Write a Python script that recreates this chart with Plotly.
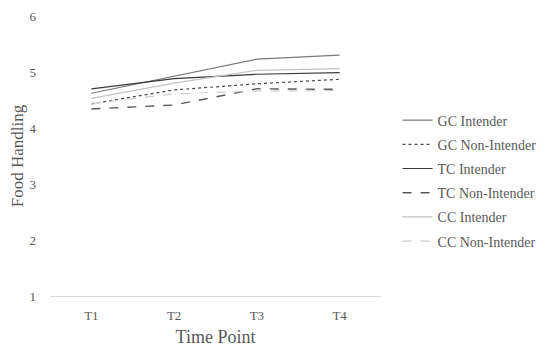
import plotly.graph_objects as go

time_points = ["T1", "T2", "T3", "T4"]
series_names = ["GC Intender", "GC Non-Intender", "TC Intender", "TC Non-Intender", "CC Intender", "CC Non-Intender"]
gc_intender = [4.62, 4.92, 5.23, 5.30]
gc_non_intender = [4.43, 4.68, 4.79, 4.87]
tc_intender = [4.70, 4.88, 4.96, 4.99]
tc_non_intender = [4.34, 4.41, 4.70, 4.69]
cc_intender = [4.53, 4.80, 5.03, 5.06]
cc_non_intender = [4.44, 4.61, 4.66, 4.67]
y_ticks = [1, 2, 3, 4, 5, 6]

series_values = [gc_intender, gc_non_intender, tc_intender, tc_non_intender, cc_intender, cc_non_intender]
styles = [
    dict(color="#7a7a7a", dash="solid", width=1.2),
    dict(color="#4a4a4a", dash="dot", width=1.2),
    dict(color="#3a3a3a", dash="solid", width=1.2),
    dict(color="#5a5a5a", dash="dash", width=1.4),
    dict(color="#c4c4c4", dash="solid", width=1.2),
    dict(color="#cdcdcd", dash="dash", width=1.2),
]

fig = go.Figure()
for i, (name, vals, st) in enumerate(zip(series_names, series_values, styles)):
    fig.add_trace(go.Scatter(x=time_points, y=vals, name=name, mode="lines",
                             line=st, legendgroup=f"g{i}"))

font_family = "Liberation Serif"
fig.update_layout(
    template="none",
    width=542, height=345,
    margin=dict(l=42, r=167, t=8, b=57),
    paper_bgcolor="white", plot_bgcolor="white",
    font=dict(family=font_family, color="#595959", size=13),
    showlegend=True,
    legend=dict(x=1.05, y=0.684, xanchor="left", yanchor="top",
                font=dict(size=14, color="#595959"), tracegroupgap=3,
                bgcolor="rgba(0,0,0,0)", borderwidth=0),
    xaxis=dict(title=dict(text="Time Point", font=dict(size=18, color="#595959"), standoff=8),
               type="category", range=[-0.5, 3.5], automargin=False,
               showgrid=False, showline=True, linecolor="#d9d9d9", linewidth=1,
               ticks="", ticklabelstandoff=7,
               tickfont=dict(size=13, color="#595959"), zeroline=False),
    yaxis=dict(title=dict(text="Food Handling", font=dict(size=17, color="#595959"), standoff=6),
               range=[1, 6], tickvals=y_ticks, showgrid=False, showline=False,
               ticks="", ticklabelstandoff=13, automargin=False,
               tickfont=dict(size=13, color="#595959"), zeroline=False),
)

fig.write_html("out.html")
